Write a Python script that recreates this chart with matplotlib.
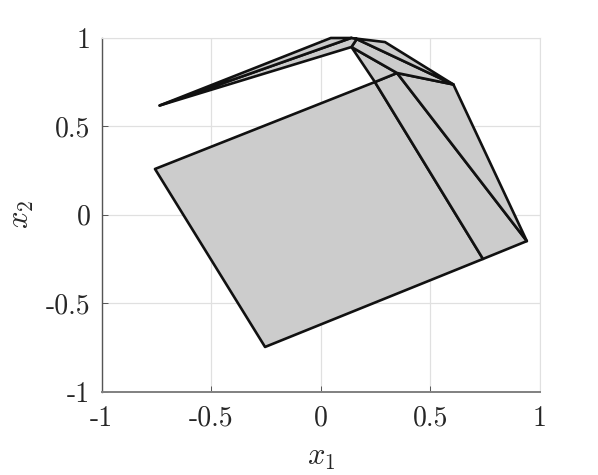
import matplotlib
matplotlib.use('Agg')
import matplotlib.pyplot as plt
from matplotlib.patches import Polygon

plt.rcParams['mathtext.fontset'] = 'cm'
plt.rcParams['axes.unicode_minus'] = False

# vertices of the partition
A = (-0.756, 0.259)
B = (-0.254, -0.748)
C = (0.740, -0.250)
D = (0.940, -0.149)
E = (0.247, 0.751)
F = (0.348, 0.802)
G = (0.605, 0.737)
H = (0.140, 0.949)
I = (0.164, 0.994)
J = (0.138, 1.000)
K = (0.293, 0.977)
L = (0.046, 1.000)
TIP = (-0.735, 0.618)

regions = [
    [A, B, C, E],
    [E, C, D, F],
    [F, D, G],
    [E, F, H],
    [H, F, G, I],
    [I, G, K, J],
    [TIP, H, I, J],
    [TIP, J, L],
]

ticks = [-1, -0.5, 0, 0.5, 1]
tick_labels = ['-1', '-0.5', '0', '0.5', '1']

fig = plt.figure(figsize=(5.98, 4.75), dpi=100)
ax = fig.add_axes([101.5 / 598, 1 - 391.5 / 475, 438.5 / 598, 353.5 / 475])

for region in regions:
    ax.add_patch(Polygon(region, closed=True, facecolor='#cccccc',
                         edgecolor='#111111', linewidth=1.9, joinstyle='round',
                         zorder=3, clip_on=False))

ax.set_xlim(-1, 1)
ax.set_ylim(-1, 1)
ax.set_xticks(ticks)
ax.set_yticks(ticks)
ax.set_xticklabels(tick_labels, family='cmr10', fontsize=20, color='#262626')
ax.set_yticklabels(tick_labels, family='cmr10', fontsize=20, color='#262626')
ax.tick_params(direction='in', length=4, width=0.7, color='#555555',
               top=False, right=False)
ax.tick_params(axis='x', pad=10)
ax.tick_params(axis='y', pad=8)
ax.grid(True, color='#e0e0e0', linewidth=0.9, zorder=0)
ax.set_axisbelow(True)

ax.spines['top'].set_color('#e0e0e0')
ax.spines['right'].set_color('#e0e0e0')
ax.spines['left'].set_color('#555555')
ax.spines['left'].set_linewidth(1.0)
ax.spines['bottom'].set_color('#808080')
ax.spines['bottom'].set_linewidth(1.4)

ax.set_xlabel(r'$x_1$', fontsize=22, color='#262626', labelpad=8)
ax.set_ylabel(r'$x_2$', fontsize=22, color='#262626', labelpad=7)

fig.savefig('out.png', dpi=100)
